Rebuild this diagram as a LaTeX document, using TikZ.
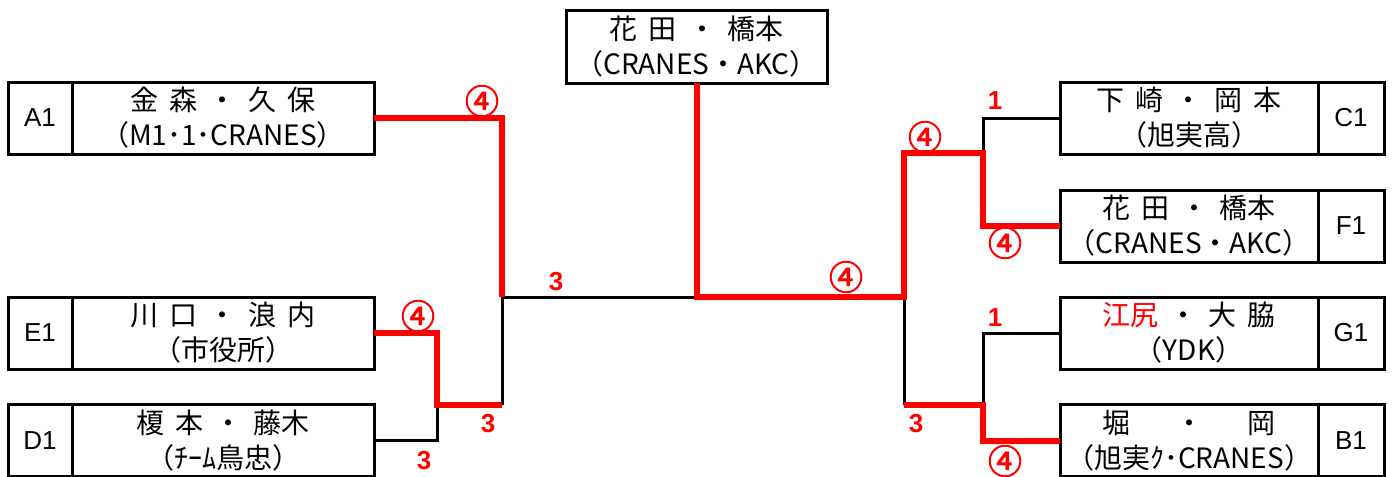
\documentclass[tikz,border=0pt]{standalone}
\usepackage{fontspec}
\usetikzlibrary{positioning}
\newfontfamily\jp{Noto Sans CJK JP}
\newfontfamily\jpheavy{Noto Sans CJK JP}[FakeBold=2.5]
\newfontfamily\arl{Liberation Sans}
\definecolor{winred}{RGB}{255,0,0}
\newcommand{\gap}{\hspace{0.4em}}
\tikzset{
  namebox/.style={draw, line width=1.5pt, inner sep=0pt, outer sep=0pt,
    minimum height=36pt, align=center,
    font=\jp\fontsize{14pt}{17.5pt}\selectfont},
  idbox/.style={draw, line width=1.5pt, inner sep=0pt, outer sep=0pt,
    minimum height=36pt, font=\arl\fontsize{13pt}{15pt}\selectfont},
  win/.style={winred, line width=3pt},
  lose/.style={black, line width=1.5pt},
  circnum/.style={text=winred, inner sep=0pt, font=\jpheavy\fontsize{17pt}{18pt}\selectfont},
  score/.style={text=winred, inner sep=0pt, font=\arl\bfseries\fontsize{13pt}{15pt}\selectfont}
}
\begin{document}
\begin{tikzpicture}[x=0.5pt, y=-0.5pt]
  \useasboundingbox (0,0) rectangle (1394,477);

  % Left side boxes
  \node[namebox, minimum width=151pt] (a1) at (223,118) {金\gap 森\gap ・\gap 久\gap 保\\（M1･1･CRANES）};
  \node[idbox, minimum width=32pt, left=0pt of a1] (a1id) {A1};
  \node[namebox, minimum width=151pt] (e1) at (223,333) {川\gap 口\gap ・\gap 浪\gap 内\\（市役所）};
  \node[idbox, minimum width=32pt, left=0pt of e1] (e1id) {E1};
  \node[namebox, minimum width=151pt] (d1) at (223,440.5) {榎\gap 本\gap ・\gap 藤木\\（ﾁｰﾑ鳥忠）};
  \node[idbox, minimum width=32pt, left=0pt of d1] (d1id) {D1};

  % Champion box
  \node[namebox, minimum width=130.5pt, minimum height=36.5pt] (champ) at (696.5,46.5) {花\gap 田\gap ・\gap 橋本\\（CRANES・AKC）};

  % Right side boxes
  \node[namebox, minimum width=129pt] (c1) at (1189,118) {下\gap 崎\gap ・\gap 岡\gap 本\\（旭実高）};
  \node[idbox, minimum width=33pt, right=0pt of c1] (c1id) {C1};
  \node[namebox, minimum width=129pt] (f1) at (1189,226) {花\gap 田\gap ・\gap 橋本\\（CRANES・AKC）};
  \node[idbox, minimum width=33pt, right=0pt of f1] (f1id) {F1};
  \node[namebox, minimum width=129pt] (g1) at (1189,333) {\textcolor{winred}{江尻}\gap ・\gap 大\gap 脇\\（YDK）};
  \node[idbox, minimum width=33pt, right=0pt of g1] (g1id) {G1};
  \node[namebox, minimum width=129pt] (b1) at (1189,440.5) {堀\hspace{1.6em}・\hspace{1.6em}岡\\（旭実ｸ･CRANES）};
  \node[idbox, minimum width=33pt, right=0pt of b1] (b1id) {B1};

  % Junctions of the bracket
  \coordinate (semiL) at (502,297);
  \coordinate (qL) at (437,405);
  \coordinate (qLout) at (502,405);
  \coordinate (final) at (champ.south |- semiL);
  \coordinate (semiR) at (904,297);
  \coordinate (qRtop) at (983,153);
  \coordinate (qRbotout) at (904,405);
  \coordinate (qRbot) at (983,405);

  % Draw losing lines
  \draw[lose] (d1.east) -| (qL);
  \draw[lose] (qLout) -- (semiL);
  \draw[lose] (semiL) -- (final);
  \draw[lose] (c1.west) -| (qRtop);
  \draw[lose] (g1.west) -| (qRbot);
  \draw[lose] (semiR) -- (qRbotout);

  % Draw winning lines
  \draw[win] (a1.east) -| (semiL);
  \draw[win] (e1.east) -| (qL) -- (qLout);
  \draw[win] (champ.south) -- (final) -- (semiR) |- (qRtop) |- (f1.west);
  \draw[win] (qRbotout) -- (qRbot) |- (b1.west);

  % Scores
  \node[circnum] (sa1) at (482,101) {④};
  \node[circnum] (se1) at (418,316) {④};
  \node[score] (se1b) at (488,424) {3};
  \node[score] (sd1) at (424,461) {3};
  \node[score] (ssl) at (556,282) {3};
  \node[circnum] (ssr) at (846,277) {④};
  \node[circnum] (sqr) at (925,137) {④};
  \node[score] (sc1) at (995,101) {1};
  \node[circnum] (sf1) at (1005,243) {④};
  \node[score] (sg1) at (995,318) {1};
  \node[score] (sqrb) at (916,424) {3};
  \node[circnum] (sb1) at (1005,461) {④};
\end{tikzpicture}
\end{document}
